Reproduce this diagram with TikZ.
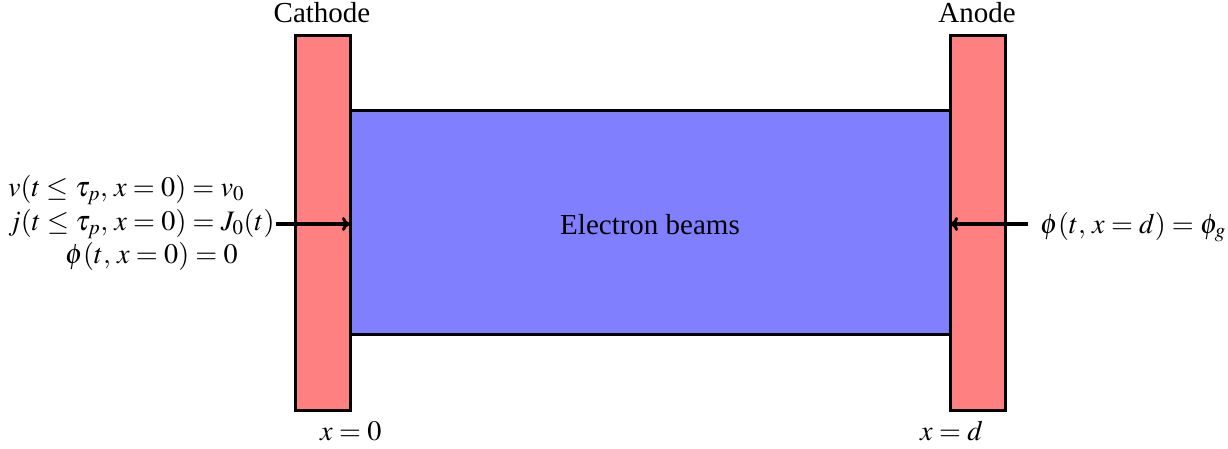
\documentclass[tikz,border=0pt]{standalone}
\usepackage{mathptmx}
\usepackage{fontspec}
\setmainfont{Liberation Serif}
\usetikzlibrary{arrows.meta}
\begin{document}
\begin{tikzpicture}[x=1pt,y=-1pt,
  electrode/.style={draw=black,line width=3pt,fill=red!50,inner sep=0pt,minimum width=55pt,minimum height=375pt},
  beambox/.style={draw=black,line width=3pt,fill=blue!50,inner sep=0pt,minimum width=600pt,minimum height=224pt},
  lbl/.style={inner sep=0pt,font=\fontsize{29}{35}\selectfont},
  mlbl/.style={inner sep=0pt,font=\fontsize{28.2}{33.5}\selectfont},
  bc/.style={line width=4.5pt,-{To[length=8pt,width=14pt,line width=3pt]}}]
\useasboundingbox (0,0) rectangle (1228,448);
\node[beambox] (beam) at (650,222) {};
\node[electrode] (cathode) at (322.5,222.5) {};
\node[electrode] (anode) at (977.5,222.5) {};
\node[lbl] (beamlbl) at (650,225) {Electron beams};
\node[lbl,anchor=base] (cathlbl) at (322,22) {Cathode};
\node[lbl,anchor=base] (anlbl) at (977,22) {Anode};
\node[mlbl,anchor=base west] (x0) at (320,440) {$x=0$};
\node[mlbl,anchor=base west] (xd) at (920,440) {$x=d$};
\node[mlbl,anchor=west,align=left] (lbc) at (8,223)
  {$v(t\leq\tau_p,\,x=0)=v_0$\\
   $j(t\leq\tau_p,\,x=0)=J_0(t)$\\
   \hspace*{57pt}$\phi(t,\,x=0)=0$};
\node[mlbl,anchor=base west] (r1) at (1040,233) {$\phi(t,\,x=d)=\phi_g$};
\coordinate (ls) at (276,224);
\coordinate (le) at (350,224);
\coordinate (rs) at (1028,224);
\coordinate (re) at (950,224);
\draw[bc] (ls) -- (le);
\draw[bc] (rs) -- (re);
\end{tikzpicture}
\end{document}
